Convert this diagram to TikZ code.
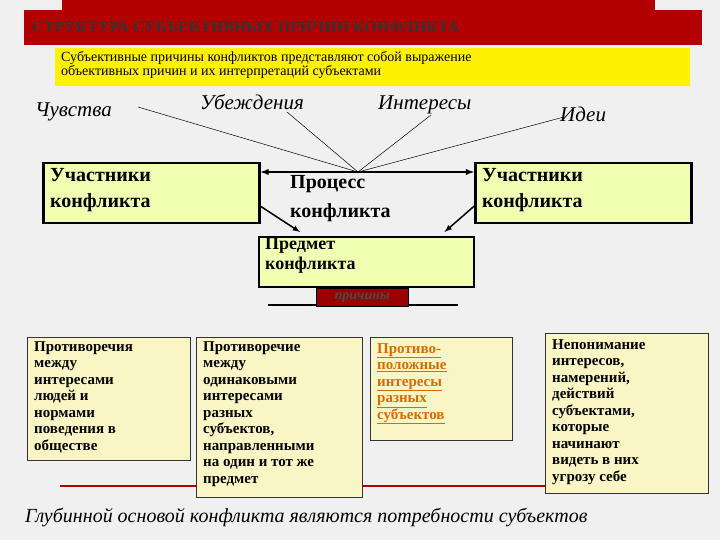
\documentclass[tikz,border=0pt]{standalone}
\usepackage{fontspec}
\setmainfont{Liberation Serif}
\begin{document}
\begin{tikzpicture}[x=1pt,y=-1pt,
  gbox/.style={draw=black,line width=2.5pt,fill=green!20!yellow!30,inner sep=0pt},
  bbox/.style={draw=black!80,line width=0.8pt,fill=brown!30!yellow!25,inner sep=0pt},
  big/.style={font=\fontsize{20}{26}\selectfont\bfseries,align=left,anchor=north west,inner sep=0pt},
  small/.style={font=\fontsize{15}{16.5}\selectfont\bfseries,align=left,anchor=north west,inner sep=0pt},
  word/.style={font=\fontsize{21}{24}\selectfont\itshape,anchor=base west,inner sep=0pt},
  thin/.style={line width=0.5pt}]
\useasboundingbox (0,0) rectangle (720,540);
\fill[gray!12] (0,0) rectangle (720,540);
% title
\fill[red!70!black] (62,0) rectangle (655,12);
\fill[red!70!black] (24,10) rectangle (702,45);
\node[anchor=base west,inner sep=0pt,font=\fontsize{16}{18}\selectfont\bfseries,text=black!80] (title) at (32,33) {СТРУКТУРА СУБЪЕКТИВНЫХ ПРИЧИН КОНФЛИКТА};
\fill[yellow] (55,48) rectangle (690,86);
\node[anchor=north west,inner sep=0pt,align=left,font=\fontsize{14}{14}\selectfont] (sub) at (61,51) {Субъективные причины конфликтов представляют собой выражение\\объективных причин и их интерпретаций субъектами};
% words
\node[word] (w1) at (35,117) {Чувства};
\node[word] (w2) at (200,110) {Убеждения};
\node[word] (w3) at (378,110) {Интересы};
\node[word] (w4) at (560,122) {Идеи};
\coordinate (c) at (358,172);
\coordinate (e1) at (138,107);
\coordinate (e2) at (287,112);
\coordinate (e3) at (431,115);
\coordinate (e4) at (564,117);
\foreach \e in {e1,e2,e3,e4} \draw[thin] (\e) -- (c);
% boxes
\node[gbox,minimum width=216,minimum height=60,anchor=north west] (L) at (42,162) {};
\node[big] (Lt) at (50,168) {Участники\\конфликта};
\node[gbox,minimum width=216,minimum height=60,anchor=north west] (R) at (474,162) {};
\node[big] (Rt) at (482,168) {Участники\\конфликта};
\draw[line width=1.8pt,<->,>=latex] (L.east |- c) -- (R.west |- c);
\node[big,font=\fontsize{20}{29}\selectfont\bfseries] (proc) at (290,175) {Процесс\\конфликта};
\node[gbox,line width=1.5pt,minimum width=215,minimum height=50,anchor=north west] (P) at (258,236) {};
\node[big,font=\fontsize{18}{20}\selectfont\bfseries] (Pt) at (265,238) {Предмет\\конфликта};
\draw[line width=1.5pt,-latex] ([yshift=-13]L.east) -- ([xshift=42,yshift=4]P.north west);
\draw[line width=1.5pt,-latex] ([yshift=-13]R.west) -- ([xshift=-30,yshift=4]P.north east);
% prichiny
\draw[line width=1.2pt] (268,305) -- (458,305);
\node[fill=red!60!black,draw=black,minimum width=92,minimum height=18,inner sep=0pt,anchor=north west,font=\fontsize{14}{14}\selectfont\itshape\bfseries,text=black!70] (pr) at (316,288) {причины};
% red line
\draw[red!70!black,line width=1.5pt] (60,486) -- (545,486);
% bottom boxes
\node[bbox,minimum width=163,minimum height=123,anchor=north west] (b1) at (27,337) {};
\node[small] (b1t) at (34,341) {Противоречия\\между\\интересами\\людей и\\нормами\\поведения в\\обществе};
\node[bbox,minimum width=166,minimum height=160,anchor=north west] (b2) at (196,337) {};
\node[small] (b2t) at (203,341) {Противоречие\\между\\одинаковыми\\интересами\\разных\\субъектов,\\направленными\\на один и тот же\\предмет};
\node[bbox,minimum width=142,minimum height=103,anchor=north west] (b3) at (370,337) {};
\node[small,text=orange!85!black] (b3t) at (377,343) {\underline{Противо-}\\\underline{положные}\\\underline{интересы}\\\underline{разных}\\\underline{субъектов}};
\node[bbox,minimum width=163,minimum height=160,anchor=north west] (b4) at (545,333) {};
\node[small] (b4t) at (552,339) {Непонимание\\интересов,\\намерений,\\действий\\субъектами,\\которые\\начинают\\видеть в них\\угрозу себе};
\node[anchor=base west,inner sep=0pt,font=\fontsize{20}{22}\selectfont\itshape] (foot) at (25,522) {Глубинной основой конфликта являются потребности субъектов};
\end{tikzpicture}
\end{document}
